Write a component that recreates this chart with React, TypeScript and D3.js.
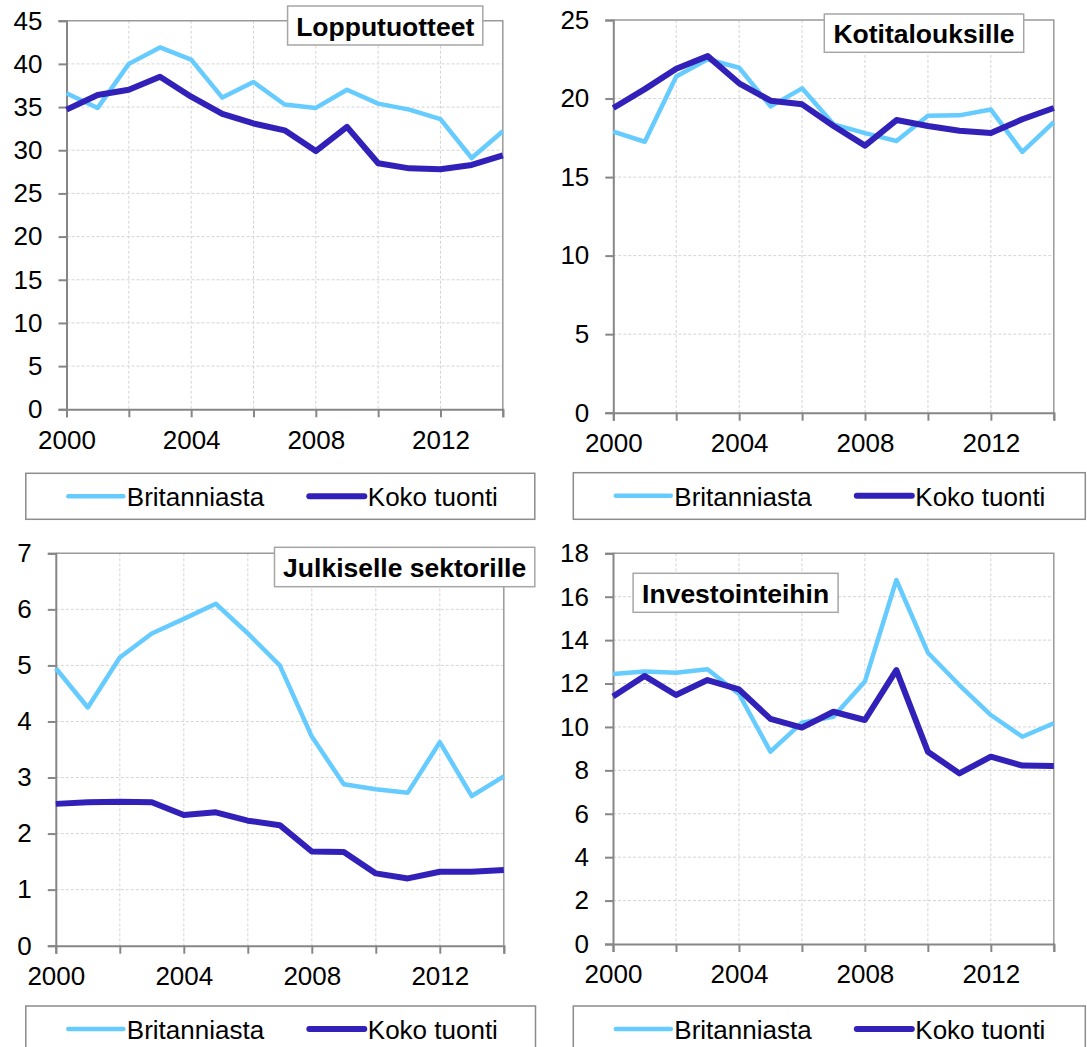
import * as d3 from "d3";
import { useRef, useEffect } from "react";

const years = [2000, 2001, 2002, 2003, 2004, 2005, 2006, 2007, 2008, 2009, 2010, 2011, 2012, 2013, 2014];
const seriesNames = ["Britanniasta", "Koko tuonti"];

// Lopputuotteet
const finalUK = [36.6, 34.9, 40.0, 41.9, 40.5, 36.1, 37.9, 35.3, 34.9, 37.0, 35.4, 34.7, 33.6, 29.1, 32.2];
const finalAll = [34.7, 36.4, 37.0, 38.5, 36.2, 34.2, 33.1, 32.3, 29.9, 32.7, 28.5, 27.9, 27.8, 28.3, 29.4];
// Kotitalouksille
const householdUK = [17.9, 17.25, 21.4, 22.5, 21.96, 19.5, 20.65, 18.36, 17.8, 17.3, 18.9, 18.93, 19.3, 16.6, 18.5];
const householdAll = [19.4, 20.6, 21.9, 22.7, 20.97, 19.86, 19.63, 18.25, 17.0, 18.63, 18.25, 17.95, 17.8, 18.68, 19.4];
// Julkiselle sektorille
const publicUK = [4.95, 4.25, 5.14, 5.57, 5.83, 6.1, 5.57, 5.0, 3.73, 2.88, 2.79, 2.73, 3.63, 2.67, 3.02];
const publicAll = [2.53, 2.56, 2.57, 2.56, 2.33, 2.38, 2.23, 2.15, 1.68, 1.67, 1.29, 1.2, 1.32, 1.32, 1.35];
// Investointeihin
const investUK = [12.44, 12.55, 12.5, 12.66, 11.52, 8.86, 10.2, 10.47, 12.09, 16.77, 13.42, 11.93, 10.55, 9.55, 10.17];
const investAll = [11.4, 12.35, 11.47, 12.16, 11.73, 10.37, 9.97, 10.7, 10.32, 12.62, 8.86, 7.86, 8.63, 8.22, 8.2];

const xTickYears = [2000, 2002, 2004, 2006, 2008, 2010, 2012, 2014];
const xLabelYears = [2000, 2004, 2008, 2012];

const colors = ["#66ccff", "#3121b9"];
const widths = [4.5, 6];
const font = "'Liberation Sans', Arial, sans-serif";

const panels = [
    { title: "Lopputuotteet", uk: finalUK, all: finalAll, max: 45, step: 5,
      plot: { l: 66.5, r: 502.8, t: 20.7, b: 409.3 },
      titleBox: { x0: 287.6, x1: 482.8, y0: 6, y1: 45 },
      legend: { x0: 25.8, x1: 534.8, y0: 473.3, y1: 519.3 } },
    { title: "Kotitalouksille", uk: householdUK, all: householdAll, max: 25, step: 5,
      plot: { l: 613.3, r: 1053.8, t: 20, b: 412.7 },
      titleBox: { x0: 824.3, x1: 1023.7, y0: 14, y1: 52.3 },
      legend: { x0: 573.3, x1: 1085.3, y0: 472.7, y1: 519.3 } },
    { title: "Julkiselle sektorille", uk: publicUK, all: publicAll, max: 7, step: 1,
      plot: { l: 55.8, r: 503.8, t: 553.3, b: 945.7 },
      titleBox: { x0: 274.5, x1: 534.8, y0: 547.3, y1: 586.7 },
      legend: { x0: 25.8, x1: 535.5, y0: 1006, y1: 1052 } },
    { title: "Investointeihin", uk: investUK, all: investAll, max: 18, step: 2,
      plot: { l: 613, r: 1053.8, t: 553.3, b: 944 },
      titleBox: { x0: 633.1, x1: 838.1, y0: 573.3, y1: 612.3 },
      legend: { x0: 573.3, x1: 1085.3, y0: 1006, y1: 1052 } },
];

const App = () => {
    const chartRef = useRef(null);

    useEffect(() => {
        const svg = d3.select(chartRef.current);
        svg.selectAll('*').remove();

        panels.forEach(p => {
            const g = svg.append('g');
            const { l, r, t, b } = p.plot;

            const scaleX = d3.scaleLinear().domain([2000, 2014]).range([l, r]);
            const scaleY = d3.scaleLinear().domain([0, p.max]).range([b, t]);
            const yTicks = d3.range(0, p.max + p.step / 2, p.step);

            // grid
            g.selectAll('.hgrid')
             .data(yTicks.filter(v => v > 0 && v < p.max))
             .enter()
             .append('line')
             .attr('x1', l).attr('x2', r)
             .attr('y1', d => scaleY(d)).attr('y2', d => scaleY(d))
             .attr('stroke', '#d4d4d4')
             .attr('stroke-dasharray', '3,2')
             .attr('stroke-width', 1);
            g.selectAll('.vgrid')
             .data(xTickYears.filter(v => v > 2000 && v < 2014))
             .enter()
             .append('line')
             .attr('x1', d => scaleX(d)).attr('x2', d => scaleX(d))
             .attr('y1', t).attr('y2', b)
             .attr('stroke', '#d4d4d4')
             .attr('stroke-dasharray', '3,2')
             .attr('stroke-width', 1);

            // frame
            g.append('path')
             .attr('d', `M${l},${t}H${r}V${b}`)
             .attr('fill', 'none')
             .attr('stroke', '#9a9a9a')
             .attr('stroke-width', 1.5);

            // y axis
            const yAxis = d3.axisLeft(scaleY).tickValues(yTicks).tickSize(8).tickPadding(16).tickFormat(d3.format('d'));
            const ya = g.append('g').attr('transform', `translate(${l},0)`).call(yAxis);
            ya.select('.domain').attr('stroke', '#868686').attr('stroke-width', 2);
            ya.selectAll('.tick line').attr('stroke', '#868686').attr('stroke-width', 2);
            ya.selectAll('.tick text').attr('font-size', 26).attr('font-family', font).attr('fill', '#000');

            // x axis
            const xAxis = d3.axisBottom(scaleX).tickValues(xTickYears).tickSize(8).tickPadding(13)
                .tickFormat(d => xLabelYears.includes(d) ? String(d) : '');
            const xa = g.append('g').attr('transform', `translate(0,${b})`).call(xAxis);
            xa.select('.domain').attr('stroke', '#868686').attr('stroke-width', 2);
            xa.selectAll('.tick line').attr('stroke', '#868686').attr('stroke-width', 2);
            xa.selectAll('.tick text').attr('font-size', 26).attr('font-family', font).attr('fill', '#000');

            // lines
            const line = d3.line().x((d, i) => scaleX(years[i])).y(d => scaleY(d));
            [p.uk, p.all].forEach((vals, k) => {
                g.append('path')
                 .datum(vals)
                 .attr('d', line)
                 .attr('fill', 'none')
                 .attr('stroke', colors[k])
                 .attr('stroke-width', widths[k])
                 .attr('stroke-linejoin', 'round');
            });

            // title box
            const tb = p.titleBox;
            g.append('rect')
             .attr('x', tb.x0).attr('y', tb.y0)
             .attr('width', tb.x1 - tb.x0).attr('height', tb.y1 - tb.y0)
             .attr('fill', '#fff')
             .attr('stroke', '#a6a6a6')
             .attr('stroke-width', 1.5);
            g.append('text')
             .attr('x', (tb.x0 + tb.x1) / 2)
             .attr('y', (tb.y0 + tb.y1) / 2 + 1)
             .attr('text-anchor', 'middle')
             .attr('dominant-baseline', 'central')
             .attr('font-family', font)
             .attr('font-weight', 'bold')
             .attr('font-size', 26.5)
             .text(p.title);

            // legend
            const lg = p.legend;
            g.append('rect')
             .attr('x', lg.x0).attr('y', lg.y0)
             .attr('width', lg.x1 - lg.x0).attr('height', lg.y1 - lg.y0)
             .attr('fill', '#fff')
             .attr('stroke', '#8c8c8c')
             .attr('stroke-width', 1.5);
            const ly = lg.y0 + 23;
            const offs = [42.5, 283.5];
            seriesNames.forEach((name, k) => {
                g.append('line')
                 .attr('x1', lg.x0 + offs[k]).attr('x2', lg.x0 + offs[k] + 55)
                 .attr('y1', ly).attr('y2', ly)
                 .attr('stroke', colors[k])
                 .attr('stroke-width', widths[k])
                 .attr('stroke-linecap', 'round');
                g.append('text')
                 .attr('x', lg.x0 + offs[k] + 58.5)
                 .attr('y', ly + 1)
                 .attr('dominant-baseline', 'central')
                 .attr('font-family', font)
                 .attr('font-size', 26)
                 .text(name);
            });
        });
    }, []);

    return (
        <div style={{ position: 'absolute', left: 0, top: 0, background: '#fff' }}>
            <svg ref={chartRef} width={1087} height={1047} style={{ display: 'block' }}></svg>
        </div>
    );
}

export default App;
